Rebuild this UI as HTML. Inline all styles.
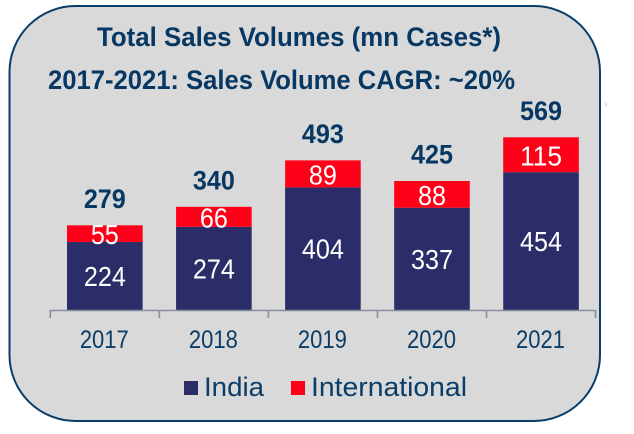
<!DOCTYPE html>
<html lang="en">
<head>
<meta charset="utf-8">
<title>Total Sales Volumes</title>
<style>
html,body{margin:0;padding:0;background:#fff;width:634px;height:434px;overflow:hidden}
svg{display:block}
text{font-family:"Liberation Sans",sans-serif}
</style>
</head>
<body>
<svg id="chart" width="634" height="434" viewBox="0 0 634 434" xmlns="http://www.w3.org/2000/svg">
  <rect x="9.5" y="6" width="590.5" height="415" rx="66" ry="66" fill="#d9d9d9" stroke="#0a3d68" stroke-width="2"/>
  <text x="97" y="46" font-size="27" font-weight="700" fill="#073763" textLength="404" lengthAdjust="spacingAndGlyphs">Total Sales Volumes (mn Cases*)</text>
  <text x="48" y="89" font-size="27" font-weight="700" fill="#073763" textLength="467" lengthAdjust="spacingAndGlyphs">2017-2021: Sales Volume CAGR: ~20%</text>
  <text x="604" y="108" font-size="11" fill="#d0d0d0">›</text>
  <g id="plot"></g>
  <g>
    <rect x="184" y="381" width="14" height="14" fill="#2a2d67"/>
    <text x="204" y="396" font-size="27" fill="#0a3d68" textLength="60" lengthAdjust="spacingAndGlyphs">India</text>
    <rect x="291" y="381" width="14" height="14" fill="#ff0019"/>
    <text x="311" y="396" font-size="27" fill="#0a3d68" textLength="156" lengthAdjust="spacingAndGlyphs">International</text>
  </g>
</svg>
<script>
const categories = ["2017", "2018", "2019", "2020", "2021"];
const indiaValues = [224, 274, 404, 337, 454];
const internationalValues = [55, 66, 89, 88, 115];
const totalValues = [279, 340, 493, 425, 569];

const NS = "http://www.w3.org/2000/svg";
const plot = document.getElementById("plot");
const baseY = 310;
const unitPx = 0.3035;
const axisLeft = 50.3;
const band = 109.05;
const barWidth = 75.6;

function yScale(v) { return baseY - v * unitPx; }
function xCenter(i) { return axisLeft + band * (i + 0.5); }
function digitWidth(s) { return s.length * 14; }

function mk(tag, attrs) {
  const el = document.createElementNS(NS, tag);
  for (const k in attrs) el.setAttribute(k, attrs[k]);
  plot.appendChild(el);
  return el;
}

function label(str, x, y, size, fill, weight) {
  return mk("text", {
    x: x, y: y, "font-size": size, fill: fill, "font-weight": weight,
    "text-anchor": "middle", textLength: digitWidth(str),
    lengthAdjust: "spacingAndGlyphs"
  });
}

categories.forEach(function (cat, i) {
  const cx = xCenter(i);
  const india = indiaValues[i];
  const intl = internationalValues[i];
  const total = totalValues[i];
  const yIndia = yScale(india);
  const yStack = yScale(india + intl);

  const barI = mk("rect", { x: cx - barWidth / 2, y: yIndia, width: barWidth, height: baseY - yIndia, fill: "#2a2d67" });
  
  

  const barR = mk("rect", { x: cx - barWidth / 2, y: yStack, width: barWidth, height: yIndia - yStack, fill: "#ff0019" });
  
  

  const lblI = label(String(india), cx, (yIndia + baseY) / 2 + 10, 28, "#ffffff", 400);
  lblI.textContent = india;
  
  

  const lblR = label(String(intl), cx, (yIndia + yStack) / 2 + 10.5, 28, "#ffffff", 400);
  lblR.textContent = intl;
  
  

  const lblT = label(String(total), cx, yStack - 17.5, 27, "#073763", 700);
  lblT.textContent = total;
  
  

  const lblY = mk("text", { x: cx - 0.5, y: 348, "font-size": 25, fill: "#0a3d68", "text-anchor": "middle", textLength: 49, lengthAdjust: "spacingAndGlyphs" });
  lblY.textContent = cat;
  
  
});

const axis = mk("line", { x1: axisLeft, x2: axisLeft + band * categories.length, y1: baseY + 0.5, y2: baseY + 0.5, stroke: "#868e9e", "stroke-width": 1.6 });



for (let i = 0; i <= categories.length; i++) {
  const tick = mk("line", { x1: axisLeft + band * i, x2: axisLeft + band * i, y1: baseY, y2: baseY + 8, stroke: "#868e9e", "stroke-width": 1.6 });
  
  
}
</script>
</body>
</html>
